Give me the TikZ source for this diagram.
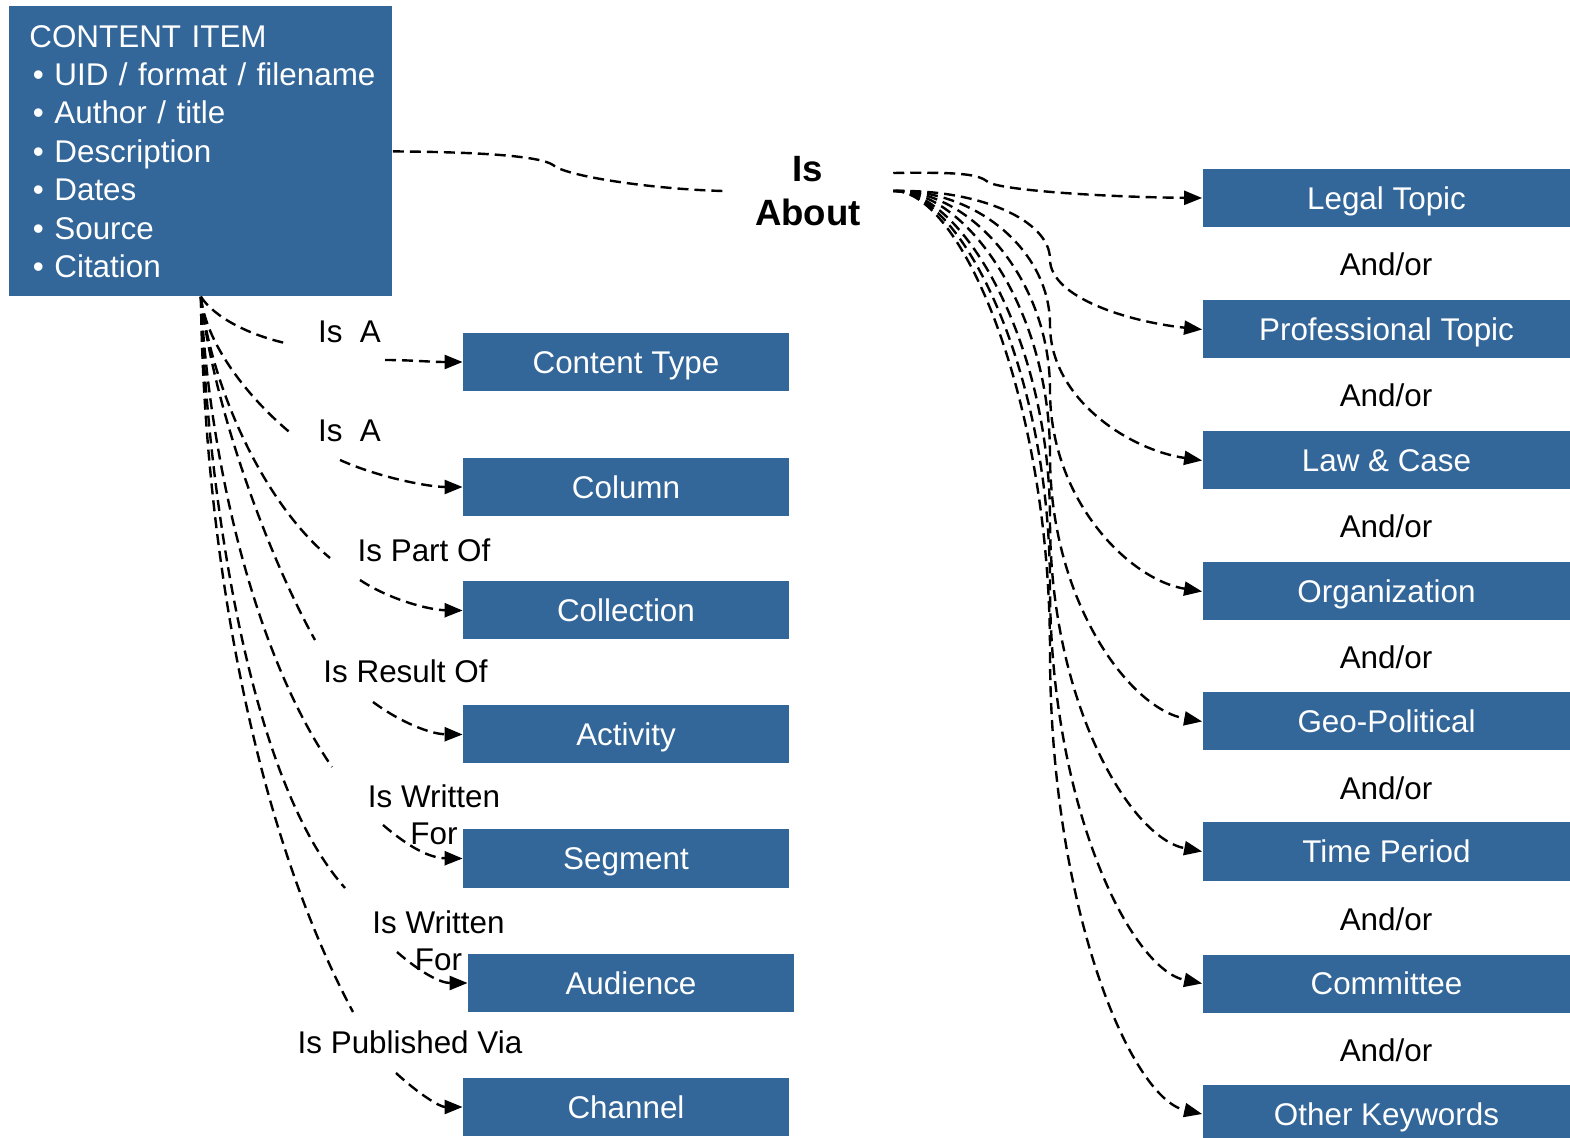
\documentclass[tikz,border=0pt]{standalone}
\usepackage{fontspec}
\setmainfont{Liberation Sans}
\usetikzlibrary{arrows.meta}
\definecolor{boxblue}{RGB}{51,102,153}
\newcommand{\cibul}[1]{\mbox{\makebox[12.5pt][l]{\hspace{1.7pt}•}#1}}
\begin{document}
\begin{tikzpicture}[x=0.5pt,y=-0.5pt,
  every node/.style={font=\fontsize{15.7pt}{19.2pt}\selectfont},
  box/.style={fill=boxblue, text=white, minimum height=29pt, inner sep=0pt, text height=11.24pt, text depth=0pt},
  lbox/.style={box, minimum width=163pt},
  rbox/.style={box, minimum width=184pt},
  conn/.style={line width=1.2pt, dash pattern=on 5.5pt off 3pt},
  arr/.style={conn, -{Triangle[length=9pt,width=7pt]}},
  lab/.style={inner sep=0pt, anchor=base},
  lab2/.style={inner sep=0pt, align=center, font=\fontsize{15.7pt}{18.5pt}\selectfont},
  andor/.style={inner sep=0pt, anchor=base}]
\useasboundingbox (0,0) rectangle (1570,1138);
\clip (0,0) rectangle (1570,1138);

% content item
\node[fill=boxblue, text=white, anchor=north west, minimum height=145pt,
      inner xsep=10pt, inner ysep=0pt, text width=171.5pt, align=left] (ci) at (9,6)
  {\mbox{CONTENT ITEM}\\
   \cibul{UID / format / filename}\\
   \cibul{Author / title}\\
   \cibul{Description}\\
   \cibul{Dates}\\
   \cibul{Source}\\
   \cibul{Citation}};

% Is About
\node[font=\fontsize{18.3pt}{22pt}\bfseries\selectfont, align=center, inner xsep=16pt, inner ysep=0pt] (ia) at (808,191) {Is\\About};

% left boxes
\node[lbox] (ct)  at (626,362)   {Content Type};
\node[lbox] (col) at (626,487)   {Column};
\node[lbox] (cll) at (626,610.5) {Collection};
\node[lbox] (act) at (626,734.5) {Activity};
\node[lbox] (seg) at (626,858.5) {Segment};
\node[lbox] (aud) at (631,983)   {Audience};
\node[lbox] (chn) at (626,1107)  {Channel};

% right boxes
\node[rbox] (lt)  at (1386.5,198)   {Legal Topic};
\node[rbox] (pt)  at (1386.5,329.5) {Professional Topic};
\node[rbox] (lc)  at (1386.5,460.5) {Law \& Case};
\node[rbox] (org) at (1386.5,591.5) {Organization};
\node[rbox] (geo) at (1386.5,721.5) {Geo-Political};
\node[rbox] (tp)  at (1386.5,851.5) {Time Period};
\node[rbox] (cmt) at (1386.5,983.5) {Committee};
\node[rbox] (ok)  at (1386.5,1114)  {Other Keywords};

% and/or labels
\node[andor] (ao1) at (1386,276)  {And/or};
\node[andor] (ao2) at (1386,407)  {And/or};
\node[andor] (ao3) at (1386,538)  {And/or};
\node[andor] (ao4) at (1386,669)  {And/or};
\node[andor] (ao5) at (1386,800)  {And/or};
\node[andor] (ao6) at (1386,930)  {And/or};
\node[andor] (ao7) at (1386,1061) {And/or};

% relation labels
\node[lab] (l1) at (349.5,343)  {Is~~A};
\node[lab] (l2) at (349.5,442)  {Is~~A};
\node[lab] (l3) at (424,562)    {Is Part Of};
\node[lab] (l4) at (405.5,683)  {Is Result Of};
\node[lab2] (l5) at (434,814.5) {Is Written\\For};
\node[lab2] (l6) at (438.5,941) {Is Written\\For};
\node[lab] (l7) at (410,1053)   {Is Published Via};

% gap coordinates around labels
\coordinate (g1a) at (285,343);  \coordinate (g1b) at (385,360);
\coordinate (g2a) at (293,435);  \coordinate (g2b) at (340,460);
\coordinate (g3a) at (330,558);  \coordinate (g3b) at (360,580);
\coordinate (g4a) at (315,640);  \coordinate (g4b) at (373,702);
\coordinate (g5a) at (332,767);  \coordinate (g5b) at (383,825);
\coordinate (g6a) at (345,888);  \coordinate (g6b) at (397,952);
\coordinate (g7a) at (353,1012); \coordinate (g7b) at (396,1073);

% left connectors
\draw[conn] (ci.south) .. controls (215,318) and (250,335) .. (g1a);
\draw[arr]  (g1b) .. controls (410,360) and (430,362) .. (ct.west);
\draw[conn] (ci.south) .. controls (206,345) and (250,400) .. (g2a);
\draw[arr]  (g2b) .. controls (380,478) and (430,487) .. (col.west);
\draw[conn] (ci.south) .. controls (210,380) and (260,500) .. (g3a);
\draw[arr]  (g3b) .. controls (390,600) and (430,610) .. (cll.west);
\draw[conn] (ci.south) .. controls (212,400) and (265,550) .. (g4a);
\draw[arr]  (g4b) .. controls (400,722) and (430,734) .. (act.west);
\draw[conn] (ci.south) .. controls (207,430) and (245,640) .. (g5a);
\draw[arr]  (g5b) .. controls (410,848) and (430,858) .. (seg.west);
\draw[conn] (ci.south) .. controls (205,450) and (240,770) .. (g6a);
\draw[arr]  (g6b) .. controls (420,972) and (440,983) .. (aud.west);
\draw[conn] (ci.south) .. controls (203,500) and (240,800) .. (g7a);
\draw[arr]  (g7b) .. controls (420,1095) and (440,1107) .. (chn.west);

% content item to Is About
\draw[conn] (ci.east) .. controls (480,152) and (540,156) .. (553,165)
  .. controls (565,176) and (650,189) .. (ia.west);

% Is About to right boxes
\draw[arr] ([yshift=9pt]ia.east) .. controls (960,172) and (978,174) .. (988,182)
  .. controls (1000,190) and (1100,197) .. (lt.west);
\draw[arr] (ia.east) .. controls (980,189) and (1050,220.6) .. (1050,259.25)
  .. controls (1050,297.9) and (1130,322) .. (pt.west);
\draw[arr] (ia.east) .. controls (975,189) and (1050,250) .. (1050,324.75)
  .. controls (1050,399.4) and (1130,450) .. (lc.west);
\draw[arr] (ia.east) .. controls (970,189) and (1050,279.6) .. (1050,390.25)
  .. controls (1050,500.9) and (1130,580) .. (org.west);
\draw[arr] (ia.east) .. controls (965,189) and (1050,308.8) .. (1050,455.25)
  .. controls (1050,601.7) and (1130,709) .. (geo.west);
\draw[arr] (ia.east) .. controls (960,189) and (1050,338) .. (1050,520.25)
  .. controls (1050,702.5) and (1130,838) .. (tp.west);
\draw[arr] (ia.east) .. controls (960,189) and (1050,367.8) .. (1050,586.25)
  .. controls (1050,804.7) and (1130,969) .. (cmt.west);
\draw[arr] (ia.east) .. controls (960,189) and (1050,397.1) .. (1050,651.5)
  .. controls (1050,905.9) and (1130,1098) .. (ok.west);
\end{tikzpicture}
\end{document}
